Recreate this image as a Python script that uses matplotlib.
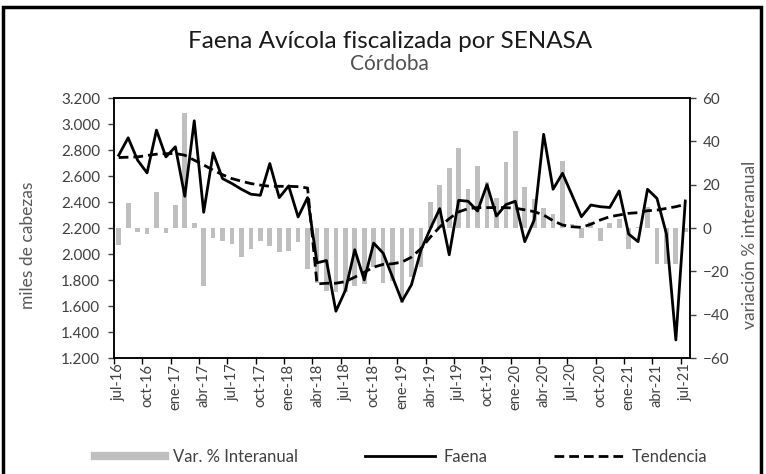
import matplotlib
matplotlib.use("Agg")
import matplotlib.pyplot as plt
from matplotlib.lines import Line2D
from matplotlib.patches import Rectangle
from matplotlib.ticker import FuncFormatter
import numpy as np

# meses jul-16 .. jul-21 (61 categorias)
meses = ["jul-16", "ago-16", "sep-16", "oct-16", "nov-16", "dic-16",
         "ene-17", "feb-17", "mar-17", "abr-17", "may-17", "jun-17",
         "jul-17", "ago-17", "sep-17", "oct-17", "nov-17", "dic-17",
         "ene-18", "feb-18", "mar-18", "abr-18", "may-18", "jun-18",
         "jul-18", "ago-18", "sep-18", "oct-18", "nov-18", "dic-18",
         "ene-19", "feb-19", "mar-19", "abr-19", "may-19", "jun-19",
         "jul-19", "ago-19", "sep-19", "oct-19", "nov-19", "dic-19",
         "ene-20", "feb-20", "mar-20", "abr-20", "may-20", "jun-20",
         "jul-20", "ago-20", "sep-20", "oct-20", "nov-20", "dic-20",
         "ene-21", "feb-21", "mar-21", "abr-21", "may-21", "jun-21",
         "jul-21"]

# variacion % interanual (eje derecho)
var_interanual = [-8.0, 11.5, -1.8, -2.9, 16.5, -2.3, 10.6, 53.0, 2.3, -26.6,
                  -4.8, -5.8, -7.2, -13.5, -9.5, -5.8, -8.2, -11.2, -10.6, -6.5,
                  -18.8, -25.4, -28.9, -29.5, -29.5, -26.9, -25.8, -18.0, -25.5, -24.5,
                  -34.5, -22.5, -18.2, 12.2, 20.0, 27.7, 37.0, 18.1, 28.5, 21.1,
                  13.8, 30.7, 44.8, 19.0, 13.4, 9.1, 6.3, 31.0, 2.0, -4.8,
                  3.0, -6.0, 2.5, 4.0, -9.7, 0.5, 9.8, -16.6, -16.6, -16.8,
                  -1.7]

# faena en miles de cabezas (eje izquierdo)
faena = [2760, 2894, 2722, 2624, 2953, 2747, 2825, 2444, 3025, 2321,
         2778, 2580, 2542, 2498, 2460, 2452, 2696, 2434, 2524, 2285,
         2434, 1932, 1950, 1560, 1719, 2033, 1801, 2084, 2007, 1822,
         1637, 1763, 2028, 2195, 2349, 1994, 2413, 2406, 2331, 2534,
         2292, 2380, 2406, 2095, 2262, 2921, 2498, 2621, 2454, 2287,
         2377, 2364, 2358, 2485, 2154, 2095, 2498, 2428, 2156, 1339,
         2408]

tendencia = [2742, 2745, 2747, 2758, 2768, 2772, 2773, 2760, 2722, 2685,
             2645, 2610, 2580, 2560, 2542, 2530, 2521, 2521, 2521, 2518,
             2508, 1770, 1775, 1775, 1788, 1822, 1860, 1899, 1920, 1925,
             1938, 1976, 2041, 2130, 2208, 2272, 2324, 2349, 2357, 2357,
             2357, 2357, 2352, 2340, 2326, 2300, 2256, 2223, 2210, 2205,
             2229, 2262, 2287, 2300, 2313, 2318, 2333, 2338, 2351, 2364,
             2382]

izq_ticks = [1200, 1400, 1600, 1800, 2000, 2200, 2400, 2600, 2800, 3000, 3200]
der_ticks = [-60, -40, -20, 0, 20, 40, 60]


def main():
    plt.rcParams['font.family'] = ['Lato', 'DejaVu Sans']
    fig = plt.figure(figsize=(7.66, 4.74), dpi=100)
    ax = fig.add_axes([0.1488, 0.2447, 0.752, 0.5485])
    ax2 = ax.twinx()

    x = np.arange(len(meses))

    # barras en el eje derecho, lineas encima
    ax2.bar(x, var_interanual, width=0.5, color='#bfbfbf', zorder=1)
    ax.plot(x, faena, color='black', lw=2, zorder=3)
    ax.plot(x, tendencia, color='black', lw=2, ls=(0, (3.5, 1.8)), zorder=3)
    ax.set_zorder(ax2.get_zorder() + 1)
    ax.patch.set_visible(False)

    ax.set_xlim(-0.5, len(meses) - 0.5)
    ax.set_ylim(1200, 3200)
    ax2.set_ylim(-60, 60)
    ax.set_yticks(izq_ticks)
    ax2.set_yticks(der_ticks)
    ax.yaxis.set_major_formatter(FuncFormatter(lambda v, p: f"{int(v):,}".replace(",", ".")))

    ax.set_xticks(x[::3])
    ax.set_xticklabels(meses[::3], rotation=90)
    ax.set_xticks(np.arange(-0.5, len(meses) - 1, 3), minor=True)
    ax.tick_params(axis='x', which='major', length=0, pad=4, labelsize=10.5, colors='#404040')
    ax.tick_params(axis='x', which='minor', length=4, width=1)
    ax.tick_params(axis='y', length=4, width=1, pad=6, labelsize=11, colors='#404040')
    ax2.tick_params(axis='y', length=4, width=1, pad=5, labelsize=11, colors='#404040')
    for a in (ax, ax2):
        for s in a.spines.values():
            s.set_linewidth(1.1)
            s.set_color('black')

    fig.text(0.509, 0.913, "Faena Avícola fiscalizada por SENASA", ha='center', va='center',
             fontsize=17.5, color='#1a1a1a')
    fig.text(0.509, 0.864, "Córdoba", ha='center', va='center', fontsize=15, color='#505050')
    fig.text(0.036, 0.483, "miles de cabezas", rotation=90, ha='center', va='center',
             fontsize=12.5, color='#595959')
    fig.text(0.979, 0.483, "variación % interanual", rotation=90, ha='center', va='center',
             fontsize=12.5, color='#595959')

    handles = [Line2D([], [], color='#bfbfbf', lw=6),
               Line2D([], [], color='black', lw=2),
               Line2D([], [], color='black', lw=2, ls=(0, (3.5, 1.8)))]
    fig.legend(handles, ["Var. % Interanual", "Faena", "Tendencia"], loc='center',
               bbox_to_anchor=(0.524, 0.036), ncol=3, frameon=False, fontsize=12,
               handlelength=4.2, columnspacing=4.0, handletextpad=0.5, labelcolor='#404040')

    # marco exterior
    fig.patches.append(Rectangle((0.004, -0.05), 0.99, 0.045 + 0.99, transform=fig.transFigure,
                                 fill=False, lw=2.5, edgecolor='black'))

    fig.savefig("out.png", dpi=100)


if __name__ == '__main__':
    main()
